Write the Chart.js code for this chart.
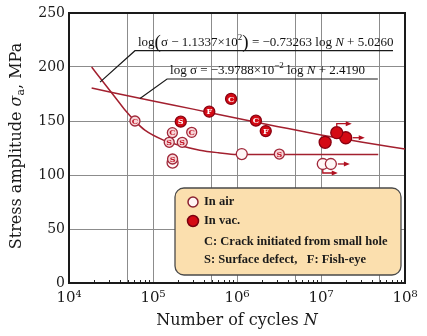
<!DOCTYPE html>
<html>
<head>
<meta charset="utf-8">
<script src="https://cdn.jsdelivr.net/npm/chart.js@4.4.0/dist/chart.umd.min.js"></script>
<style>
    body { margin: 0; background: #fff; }
</style>
</head>
<body>
<canvas id="grafico" width="427" height="336"></canvas>
<script>
// Ensaios ao ar: ciclos N, amplitude (MPa), origem da trinca, corpo não rompido
const arCiclos = [6.1e4, 1.70e5, 2.89e5, 1.56e5, 2.23e5, 1.71e5, 1.71e5, 1.14e6, 3.19e6, 1.05e7, 1.31e7]
const arTensao = [150, 139.2, 139.5, 130.3, 130.3, 111.4, 114.8, 119.4, 119.4, 110.2, 110.2]
const arOrigem = ['C', 'C', 'C', 'S', 'S', '', 'S', '', 'S', '', '']
const arRunout = ['', '', '', '', '', '', '', '', '', 'down', 'right']

// Ensaios em vácuo
const vacCiclos = [2.14e5, 4.68e5, 8.5e5, 1.68e6, 2.2e6, 1.12e7, 1.97e7, 1.54e7]
const vacTensao = [149.4, 158.6, 170.4, 150.3, 140.7, 130.3, 134.5, 139.2]
const vacOrigem = ['S', 'F', 'C', 'C', 'F', '', '', '']
const vacRunout = ['', '', '', '', '', '', 'right', 'up']

// Curvas S-N ajustadas
const curvaArN = [1.86e4, 2.5e4, 3.5e4, 4.64e4, 6.1e4, 8e4, 1.33e5, 2e5, 3.6e5, 6e5, 1e6, 4.8e7]
const curvaArS = [200, 187, 172.5, 160.2, 150, 141.5, 132.3, 127.8, 123, 120.6, 119, 119]
const curvaVacN = [1.86e4, 1e5, 3e5, 1e6, 3e6, 1e7, 3e7, 1e8]
const curvaVacS = [180.5, 168.5, 161, 152.5, 145, 137, 130.5, 124]

// Eixos
const ticksX = [1e4, 5e4, 1e5, 5e5, 1e6, 5e6, 1e7, 5e7, 1e8]
const ticksY = [0, 50, 100, 150, 200, 250]

const sup = { 4: '⁴', 5: '⁵', 6: '⁶', 7: '⁷', 8: '⁸' }
const vermelho = '#a3202f'
const serif = '"DejaVu Serif", serif'
const times = '"Liberation Serif", serif'

// Equações e linhas de chamada (coordenadas em N, MPa)
const equacoes = [
    {
        linha: [6.1e4, 7.2e7, 215.1], chamada: [2.34e4, 186],
        trechos: [
            { t: 'log', s: 13 },
            { t: '(', s: 19, dy: 2 },
            { t: 'σ − 1.1337×10', s: 13 },
            { t: '2', s: 9, dy: -6 },
            { t: ')', s: 19, dy: 2 },
            { t: ' = −0.73263 log ', s: 13 },
            { t: 'N', s: 13, i: true },
            { t: ' + 5.0260', s: 13 }
        ]
    },
    {
        linha: [1.47e5, 4.75e7, 188.9], chamada: [7.0e4, 170.8],
        trechos: [
            { t: 'log σ = −3.9788×10', s: 13 },
            { t: '−2', s: 9, dy: -6 },
            { t: ' log ', s: 13 },
            { t: 'N', s: 13, i: true },
            { t: ' + 2.4190', s: 13 }
        ]
    }
]

function larguraTrechos(ctx, trechos, familia) {
    let w = 0
    trechos.forEach(tr => {
        ctx.font = (tr.i ? 'italic ' : '') + tr.s + 'px ' + familia
        w += ctx.measureText(tr.t).width
    })
    return w
}

function escreverTrechos(ctx, x, y, trechos, familia) {
    ctx.textAlign = 'left'
    ctx.textBaseline = 'alphabetic'
    trechos.forEach(tr => {
        ctx.font = (tr.i ? 'italic ' : '') + tr.s + 'px ' + familia
        ctx.fillText(tr.t, x, y + (tr.dy || 0))
        x += ctx.measureText(tr.t).width
    })
}

function seta(ctx, pts) {
    ctx.beginPath()
    ctx.moveTo(pts[0][0], pts[0][1])
    for (let i = 1; i < pts.length; i++) ctx.lineTo(pts[i][0], pts[i][1])
    ctx.stroke()
    const [x, y] = pts[pts.length - 1]
    ctx.beginPath()
    ctx.moveTo(x + 4, y)
    ctx.lineTo(x - 2, y - 2.5)
    ctx.lineTo(x - 2, y + 2.5)
    ctx.closePath()
    ctx.fill()
}

function caixa(ctx, x, y, w, h, r) {
    ctx.beginPath()
    ctx.moveTo(x + r, y)
    ctx.arcTo(x + w, y, x + w, y + h, r)
    ctx.arcTo(x + w, y + h, x, y + h, r)
    ctx.arcTo(x, y + h, x, y, r)
    ctx.arcTo(x, y, x + w, y, r)
    ctx.closePath()
}

const desenhos = {
    id: 'desenhos',
    beforeDatasetsDraw(chart) {
        const { ctx, chartArea: a, scales: { x } } = chart
        ctx.save()
        // marcas menores do eixo log
        ctx.strokeStyle = '#222'
        ctx.lineWidth = 1
        for (let d = 1e4; d < 1e8; d *= 10) {
            for (let k = 2; k <= 9; k++) {
                const px = Math.round(x.getPixelForValue(k * d)) + 0.5
                ctx.beginPath()
                ctx.moveTo(px, a.bottom)
                ctx.lineTo(px, a.bottom - 3)
                ctx.stroke()
            }
        }
        ctx.strokeStyle = '#1a1a1a'
        ctx.lineWidth = 2
        ctx.strokeRect(a.left, a.top, a.right - a.left, a.bottom - a.top)
        ctx.restore()
    },
    afterDatasetsDraw(chart) {
        const { ctx, chartArea: a, scales: { x, y } } = chart
        ctx.save()

        // letras dentro dos marcadores e setas de corpos não rompidos
        const grupos = [
            { meta: chart.getDatasetMeta(0), origem: arOrigem, runout: arRunout, cor: '#c0182a' },
            { meta: chart.getDatasetMeta(1), origem: vacOrigem, runout: vacRunout, cor: '#fff' }
        ]
        grupos.forEach(g => {
            g.meta.data.forEach((p, i) => {
                if (g.origem[i]) {
                    ctx.fillStyle = g.cor
                    ctx.font = 'bold 8px ' + serif
                    ctx.textAlign = 'center'
                    ctx.textBaseline = 'middle'
                    ctx.fillText(g.origem[i], p.x, p.y + 0.5)
                }
                ctx.strokeStyle = '#b01020'
                ctx.fillStyle = '#b01020'
                ctx.lineWidth = 1.3
                if (g.runout[i] == 'up') seta(ctx, [[p.x, p.y - 6], [p.x, p.y - 9], [p.x + 11, p.y - 9]])
                if (g.runout[i] == 'down') seta(ctx, [[p.x, p.y + 6], [p.x, p.y + 9], [p.x + 11, p.y + 9]])
                if (g.runout[i] == 'right') seta(ctx, [[p.x + 7, p.y], [p.x + 15, p.y]])
            })
        })

        // equações com linha de chamada
        equacoes.forEach(eq => {
            const x0 = x.getPixelForValue(eq.linha[0])
            const x1 = x.getPixelForValue(eq.linha[1])
            const yl = y.getPixelForValue(eq.linha[2])
            ctx.strokeStyle = '#1a1a1a'
            ctx.lineWidth = 1.2
            ctx.beginPath()
            ctx.moveTo(x.getPixelForValue(eq.chamada[0]), y.getPixelForValue(eq.chamada[1]))
            ctx.lineTo(x0, yl)
            ctx.lineTo(x1, yl)
            ctx.stroke()
            ctx.fillStyle = '#111'
            escreverTrechos(ctx, x0 + 3, yl - 5, eq.trechos, times)
        })

        // legenda
        const lw = 226, lh = 87
        const lx = a.right - 4 - lw, ly = a.bottom - 8 - lh
        caixa(ctx, lx, ly, lw, lh, 9)
        ctx.fillStyle = '#fbdfae'
        ctx.fill()
        ctx.strokeStyle = '#4a4a4a'
        ctx.lineWidth = 1.3
        ctx.stroke()

        ctx.lineWidth = 1.5
        ctx.beginPath()
        ctx.arc(lx + 18, ly + 14, 5, 0, Math.PI * 2)
        ctx.fillStyle = '#fff4f4'
        ctx.fill()
        ctx.strokeStyle = '#8a2030'
        ctx.stroke()
        ctx.beginPath()
        ctx.arc(lx + 18, ly + 33, 5.5, 0, Math.PI * 2)
        ctx.fillStyle = '#d40a14'
        ctx.fill()
        ctx.strokeStyle = '#7a0010'
        ctx.stroke()

        ctx.fillStyle = '#1a1a1a'
        ctx.font = 'bold 12.5px ' + times
        ctx.textAlign = 'left'
        ctx.textBaseline = 'middle'
        ctx.fillText('In air', lx + 29, ly + 14)
        ctx.fillText('In vac.', lx + 29, ly + 33)
        ctx.fillText('C: Crack initiated from small hole', lx + 29, ly + 53.5)
        ctx.fillText('S: Surface defect,   F: Fish-eye', lx + 29, ly + 72)

        // títulos dos eixos
        ctx.fillStyle = '#1a1a1a'
        const tx = [{ t: 'Number of cycles ', s: 16 }, { t: 'N', s: 16, i: true }]
        const wx = larguraTrechos(ctx, tx, serif)
        escreverTrechos(ctx, (a.left + a.right) / 2 - wx / 2, 325, tx, serif)

        const ty = [
            { t: 'Stress amplitude ', s: 16 },
            { t: 'σ', s: 16, i: true },
            { t: 'a', s: 11, dy: 3 },
            { t: ', MPa', s: 16 }
        ]
        const wy = larguraTrechos(ctx, ty, serif)
        ctx.translate(21, (a.top + a.bottom) / 2 - 2)
        ctx.rotate(-Math.PI / 2)
        escreverTrechos(ctx, -wy / 2, 0, ty, serif)
        ctx.restore()
    }
}

const ctx = document.getElementById('grafico').getContext('2d')
const grafico = new Chart(ctx, {
    type: 'scatter',
    data: {
        datasets: [{
            label: 'In air',
            data: arCiclos.map((n, i) => ({ x: n, y: arTensao[i] })),
            pointRadius: c => arOrigem[c.dataIndex] ? 5 : 5.5,
            pointBackgroundColor: c => arOrigem[c.dataIndex] ? '#f7d6d8' : '#fff6f6',
            pointBorderColor: '#a0283a',
            pointBorderWidth: 1.3,
            order: 1
        }, {
            label: 'In vac.',
            data: vacCiclos.map((n, i) => ({ x: n, y: vacTensao[i] })),
            pointRadius: c => vacOrigem[c.dataIndex] ? 5.5 : 6,
            pointBackgroundColor: '#d40a14',
            pointBorderColor: '#8a0010',
            pointBorderWidth: 1.3,
            order: 0
        }, {
            type: 'line',
            data: curvaArN.map((n, i) => ({ x: n, y: curvaArS[i] })),
            borderColor: vermelho,
            borderWidth: 1.5,
            pointRadius: 0,
            cubicInterpolationMode: 'monotone',
            order: 3
        }, {
            type: 'line',
            data: curvaVacN.map((n, i) => ({ x: n, y: curvaVacS[i] })),
            borderColor: vermelho,
            borderWidth: 1.5,
            pointRadius: 0,
            cubicInterpolationMode: 'monotone',
            order: 2
        }]
    },
    options: {
        responsive: false,
        animation: false,
        layout: { padding: { top: 13, right: 22, left: 0, bottom: 0 } },
        plugins: {
            legend: { display: false },
            tooltip: { enabled: false }
        },
        scales: {
            x: {
                type: 'logarithmic',
                min: 1e4,
                max: 1e8,
                afterBuildTicks: s => { s.ticks = ticksX.map(v => ({ value: v })) },
                afterFit: s => { s.height = 53 },
                grid: { color: '#8c8c8c', lineWidth: 1, drawTicks: false },
                border: { display: false },
                ticks: {
                    autoSkip: false,
                    maxRotation: 0,
                    padding: 6,
                    color: '#1a1a1a',
                    font: { family: 'DejaVu Serif', size: 15 },
                    callback: v => {
                        const e = Math.round(Math.log10(v))
                        return Math.abs(v - Math.pow(10, e)) < v * 1e-6 ? '10' + sup[e] : ''
                    }
                }
            },
            y: {
                min: 0,
                max: 250,
                afterBuildTicks: s => { s.ticks = ticksY.map(v => ({ value: v })) },
                afterFit: s => { s.width = 69 },
                grid: { color: '#8c8c8c', lineWidth: 1, drawTicks: false },
                border: { display: false },
                ticks: {
                    padding: 4,
                    color: '#1a1a1a',
                    font: { family: 'DejaVu Serif', size: 14 }
                }
            }
        }
    },
    plugins: [desenhos]
})
</script>
</body>
</html>
